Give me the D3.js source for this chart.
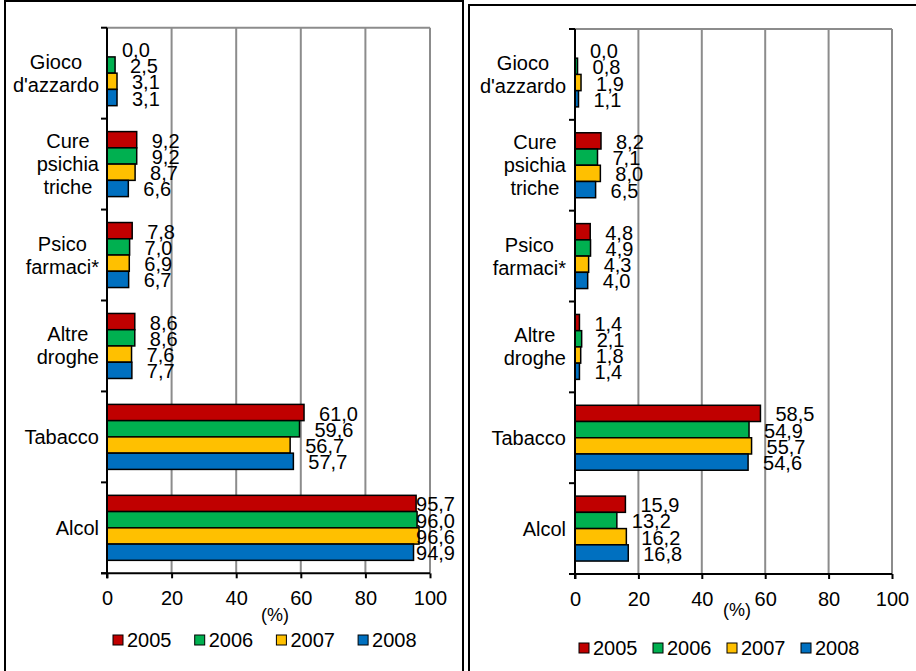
<!DOCTYPE html>
<html>
<head>
<meta charset="utf-8">
<script src="https://cdn.jsdelivr.net/npm/d3@7"></script>
<style>
  html, body { margin: 0; padding: 0; background: #fff; }
  svg { display: block; }
  text { font-family: "Liberation Sans", Arial, sans-serif; fill: #000; }
</style>
</head>
<body>
<svg id="chart" width="916" height="671"></svg>
<script>
// ---- DATA ----
const categories = ["Gioco\nd'azzardo", "Cure\npsichia\ntriche", "Psico\nfarmaci*", "Altre\ndroghe", "Tabacco", "Alcol"];
const years = ["2005", "2006", "2007", "2008"];
const xTicks = [0, 20, 40, 60, 80, 100];
const axisTitle = "(%)";

// Left panel
const left2005 = [0.0, 9.2, 7.8, 8.6, 61.0, 95.7];
const left2006 = [2.5, 9.2, 7.0, 8.6, 59.6, 96.0];
const left2007 = [3.1, 8.7, 6.9, 7.6, 56.7, 96.6];
const left2008 = [3.1, 6.6, 6.7, 7.7, 57.7, 94.9];

// Right panel
const right2005 = [0.0, 8.2, 4.8, 1.4, 58.5, 15.9];
const right2006 = [0.8, 7.1, 4.9, 2.1, 54.9, 13.2];
const right2007 = [1.9, 8.0, 4.3, 1.8, 55.7, 16.2];
const right2008 = [1.1, 6.5, 4.0, 1.4, 54.6, 16.8];

const colors = ["#C00000", "#00B050", "#FFC000", "#0070C0"];

const svg = d3.select("#chart");

// panel frames
svg.append("rect").attr("x", 5).attr("y", 1).attr("width", 458).attr("height", 700)
  .attr("fill", "none").attr("stroke", "#000").attr("stroke-width", 2);
svg.append("rect").attr("x", 469).attr("y", 5).attr("width", 460).attr("height", 700)
  .attr("fill", "none").attr("stroke", "#000").attr("stroke-width", 2);

const fmt = v => d3.format(".1f")(v).replace(".", ",");

function drawPanel(cfg) {
  const series = cfg.series;
  const g = svg.append("g");
  const x = d3.scaleLinear().domain([0, 100]).range([cfg.x0, cfg.x1]);
  const y = d3.scaleBand().domain(d3.range(categories.length)).range([cfg.y0, cfg.y1])
    .paddingInner(0.285).paddingOuter(0.1425);
  const ySub = d3.scaleBand().domain(d3.range(years.length)).range([0, y.bandwidth()]).padding(0);
  const step = y.step();

  // gridlines
  g.selectAll("line.grid").data(xTicks.filter(d => d > 0)).join("line")
    .attr("x1", d => x(d)).attr("x2", d => x(d))
    .attr("y1", cfg.y0).attr("y2", cfg.y1)
    .attr("stroke", "#8c8c8c").attr("stroke-width", 2);
  // top border
  g.append("line").attr("x1", cfg.x0).attr("x2", cfg.x1).attr("y1", cfg.y0).attr("y2", cfg.y0)
    .attr("stroke", "#8c8c8c").attr("stroke-width", 2);

  // bars
  categories.forEach((c, ci) => {
    series.forEach((vals, si) => {
      const v = vals[ci];
      const by = y(ci) + ySub(si);
      if (v > 0) {
        g.append("rect")
          .attr("x", x(0)).attr("y", by)
          .attr("width", x(v) - x(0)).attr("height", ySub.bandwidth())
          .attr("fill", colors[si]).attr("stroke", "#000").attr("stroke-width", 1.5);
      }
    });
  });

  // data labels
  categories.forEach((c, ci) => {
    series.forEach((vals, si) => {
      const v = vals[ci];
      const cy = y(ci) + ySub(si) + ySub.bandwidth() / 2 + 1;
      const t = g.append("text")
        .attr("y", cy).attr("dy", "0.35em")
        .attr("font-size", 20)
        .text(fmt(v));
      const w = t.node().getComputedTextLength();
      const lx = Math.min(x(v) + 15, cfg.labelLimit - w);
      t.attr("x", lx);
    });
  });

  // y axis line
  g.append("line").attr("x1", x(0)).attr("x2", x(0)).attr("y1", cfg.y0).attr("y2", cfg.y1 + 5)
    .attr("stroke", "#000").attr("stroke-width", 2);
  // category boundary ticks
  const bounds = d3.range(categories.length + 1).map(i => cfg.y0 + i * step);
  g.selectAll("line.ytick").data(bounds).join("line")
    .attr("x1", x(0) - 6).attr("x2", x(0))
    .attr("y1", d => d).attr("y2", d => d)
    .attr("stroke", "#000").attr("stroke-width", 2);

  // x axis
  const xAxis = d3.axisBottom(x).tickValues(xTicks).tickSize(5).tickPadding(13).tickFormat(d3.format("d"));
  const ax = g.append("g").attr("transform", `translate(0,${cfg.y1})`).call(xAxis);
  ax.select(".domain").attr("stroke", "#000").attr("stroke-width", 2).attr("d", `M${cfg.x0 - 6},0H${cfg.x1}`);
  ax.selectAll(".tick line").attr("stroke", "#000").attr("stroke-width", 2);
  ax.selectAll(".tick text").attr("font-size", 20).attr("font-family", "Liberation Sans, Arial, sans-serif").attr("fill", "#000");

  // axis title
  g.append("text").attr("x", cfg.titleX).attr("y", cfg.titleY)
    .attr("text-anchor", "middle").attr("font-size", 18).text(axisTitle);

  // category labels
  categories.forEach((c, ci) => {
    const lines = c.split("\n");
    const cyc = y(ci) + y.bandwidth() / 2;
    const grp = g.append("g");
    const texts = lines.map((ln, li) => grp.append("text")
      .attr("y", cyc + (li - (lines.length - 1) / 2) * 23)
      .attr("dy", "0.35em").attr("font-size", 20).attr("text-anchor", "middle").text(ln));
    const maxW = d3.max(texts, t => t.node().getComputedTextLength());
    texts.forEach(t => t.attr("x", cfg.catRight - maxW / 2));
  });

  // legend
  years.forEach((yr, i) => {
    const lx = cfg.legX + i * cfg.legStep;
    g.append("rect").attr("x", lx).attr("y", cfg.legY).attr("width", 10).attr("height", 10)
      .attr("fill", colors[i]).attr("stroke", "#000").attr("stroke-width", 1);
    g.append("text").attr("x", lx + 14).attr("y", cfg.legY + 11.5).attr("font-size", 20).text(yr);
  });
}

drawPanel({
  series: [left2005, left2006, left2007, left2008],
  x0: 107, x1: 430, y0: 27.7, y1: 573.3,
  labelLimit: 455, catRight: 99,
  titleX: 275, titleY: 621,
  legX: 113, legStep: 81.7, legY: 635
});

drawPanel({
  series: [right2005, right2006, right2007, right2008],
  x0: 575, x1: 892, y0: 29, y1: 574,
  labelLimit: 912, catRight: 566,
  titleX: 737, titleY: 616,
  legX: 579, legStep: 74, legY: 643
});
</script>
</body>
</html>
